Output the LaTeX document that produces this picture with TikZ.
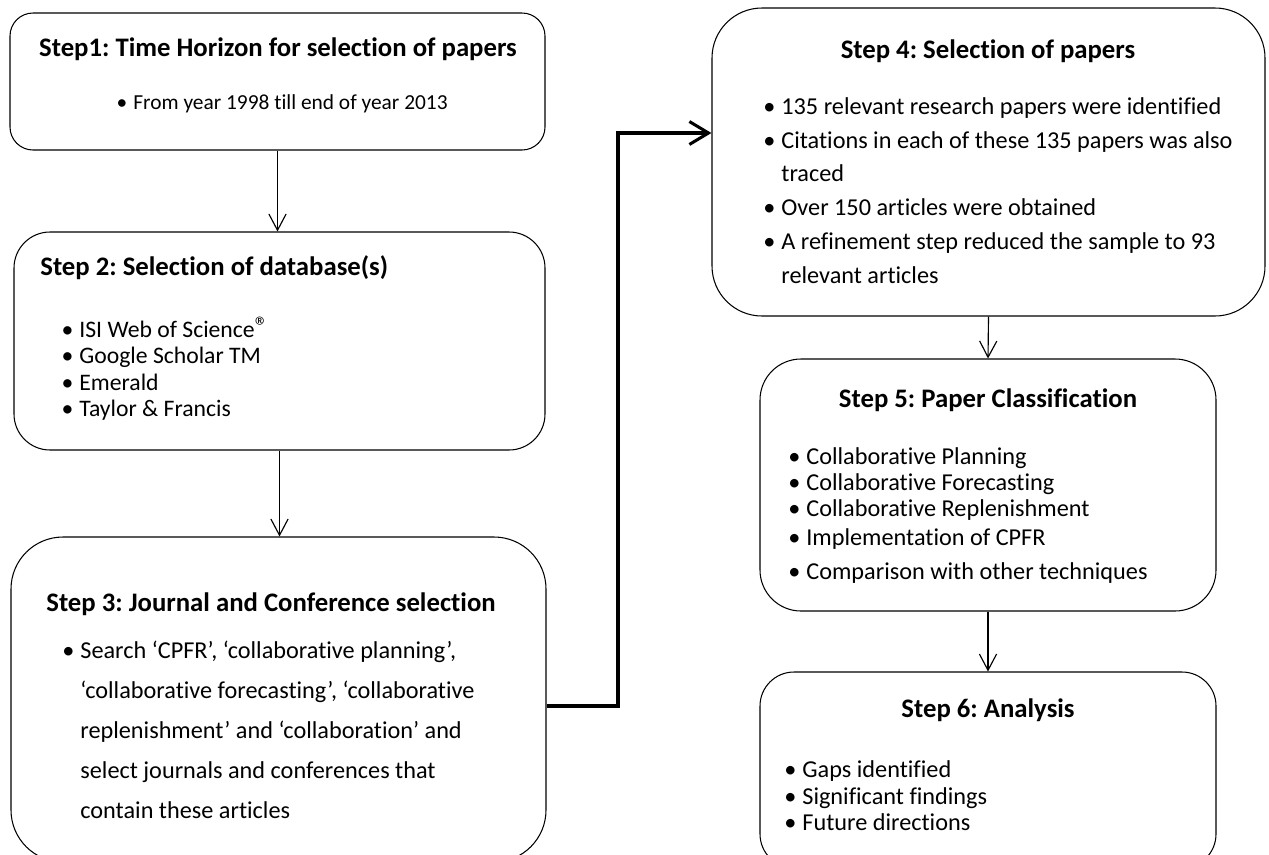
\documentclass[tikz,border=0pt]{standalone}
\usepackage{fontspec}
\setmainfont{Carlito}[Ligatures=NoCommon]
\usetikzlibrary{arrows.meta, positioning}
\frenchspacing
\newlength{\pxu}
\setlength{\pxu}{0.5236pt}
\newcommand{\bl}{\makebox[0pt][r]{\textbullet\hspace{6\pxu}}}

\begin{document}
\begin{tikzpicture}
  [x=\pxu, y=-\pxu,
  stepbox/.style={draw, line width=0.55pt, inner sep=0pt},
  title/.style={font=\fontsize{14}{17}\selectfont\bfseries, inner sep=0pt},
  list/.style={align=left, inner sep=0pt, anchor=north west},
  flow/.style={-{Straight Barb[length=8.5pt,width=9pt]}, line width=0.6pt},
  jump/.style={-{Straight Barb[length=10pt,width=12pt]}, line width=1.6pt}]

\clip (0,0) rectangle (1269,854);
\fill[white] (0,0) rectangle (1269,854);

% Boxes of the left column
\node[stepbox, minimum width=535*\pxu, minimum height=137*\pxu, rounded corners=23*\pxu] (s1) at (277.5,81.5) {};
\node[stepbox, minimum width=531*\pxu, minimum height=218*\pxu, rounded corners=36*\pxu] (s2) at (279.5,341) {};
\node[stepbox, minimum width=535*\pxu, minimum height=325*\pxu, rounded corners=52*\pxu] (s3) at (278.5,699.5) {};
% Boxes of the right column
\node[stepbox, minimum width=553*\pxu, minimum height=308*\pxu, rounded corners=50*\pxu] (s4) at (988.5,162) {};
\node[stepbox, minimum width=456*\pxu, minimum height=252*\pxu, rounded corners=41*\pxu] (s5) at (988,485) {};
\node[stepbox, minimum width=456*\pxu, minimum height=196*\pxu, rounded corners=34*\pxu] (s6) at (988,770) {};

% Step 1
\node[title, anchor=base] (s1t) at (278,56.5) {Step1: Time Horizon for selection of papers};
\node[list, font=\fontsize{11.2}{13.6}\selectfont] (s1l) at (133,94.6) {\bl From year 1998 till end of year 2013};

% Step 2
\node[title, anchor=base west] (s2t) at (40,275.5) {Step 2: Selection of database(s)};
\node[list, font=\fontsize{12.4}{13.8}\selectfont] (s2l) at (79,320.8) {\bl ISI Web of Science\smash{\raisebox{1pt}{\fontsize{14}{14}\selectfont ®}}\\
  \bl Google Scholar TM\\
  \bl Emerald\\
  \bl Taylor \& Francis};

% Step 3
\node[title, anchor=base west] (s3t) at (46,611.5) {Step 3: Journal and Conference selection};
\node[list, font=\fontsize{12.7}{20.9}\selectfont] (s3l) at (80,640.5) {\bl Search ‘CPFR’, ‘collaborative planning’,\\
  ‘collaborative forecasting’, ‘collaborative\\
  replenishment’ and ‘collaboration’ and\\
  select journals and conferences that\\
  contain these articles};

% Step 4
\node[title, anchor=base] (s4t) at (988,58.5) {Step 4: Selection of papers};
\node[list, font=\fontsize{12.7}{17.7}\selectfont] (s4l) at (781,97) {\bl 135 relevant research papers were identified\\
  \bl Citations in each of these 135 papers was also\\
  traced\\
  \bl Over 150 articles were obtained\\
  \bl A refinement step reduced the sample to 93\\
  relevant articles};

% Step 5
\node[title, anchor=base] (s5t) at (988,407) {Step 5: Paper Classification};
\node[list, font=\fontsize{12.7}{13.6}\selectfont] (s5l) at (806,447.5) {\bl Collaborative Planning\\
  \bl Collaborative Forecasting\\
  \bl Collaborative Replenishment\\[1.6pt]
  \bl Implementation of CPFR\\[4.2pt]
  \bl Comparison with other techniques};

% Step 6
\node[title, anchor=base] (s6t) at (988,717.5) {Step 6: Analysis};
\node[list, font=\fontsize{12.7}{13.9}\selectfont] (s6l) at (802,760.5) {\bl Gaps identified\\
  \bl Significant findings\\
  \bl Future directions};

% Arrows between the steps
\draw[flow] (s1.south) -- (s1.south |- s2.north);
\draw[flow] (s2.south) -- (s2.south |- s3.north);
\draw[flow] (s4.south) -- (s5.north);
\draw[flow] (s5.south) -- (s6.north);

% Connector from step 3 to step 4
\coordinate (j1) at (618,706);
\coordinate (j2) at (618,133);
\draw[jump] (j1 -| s3.east) -- (j1) -- (j2) -- (j2 -| s4.west);

\end{tikzpicture}
\end{document}
